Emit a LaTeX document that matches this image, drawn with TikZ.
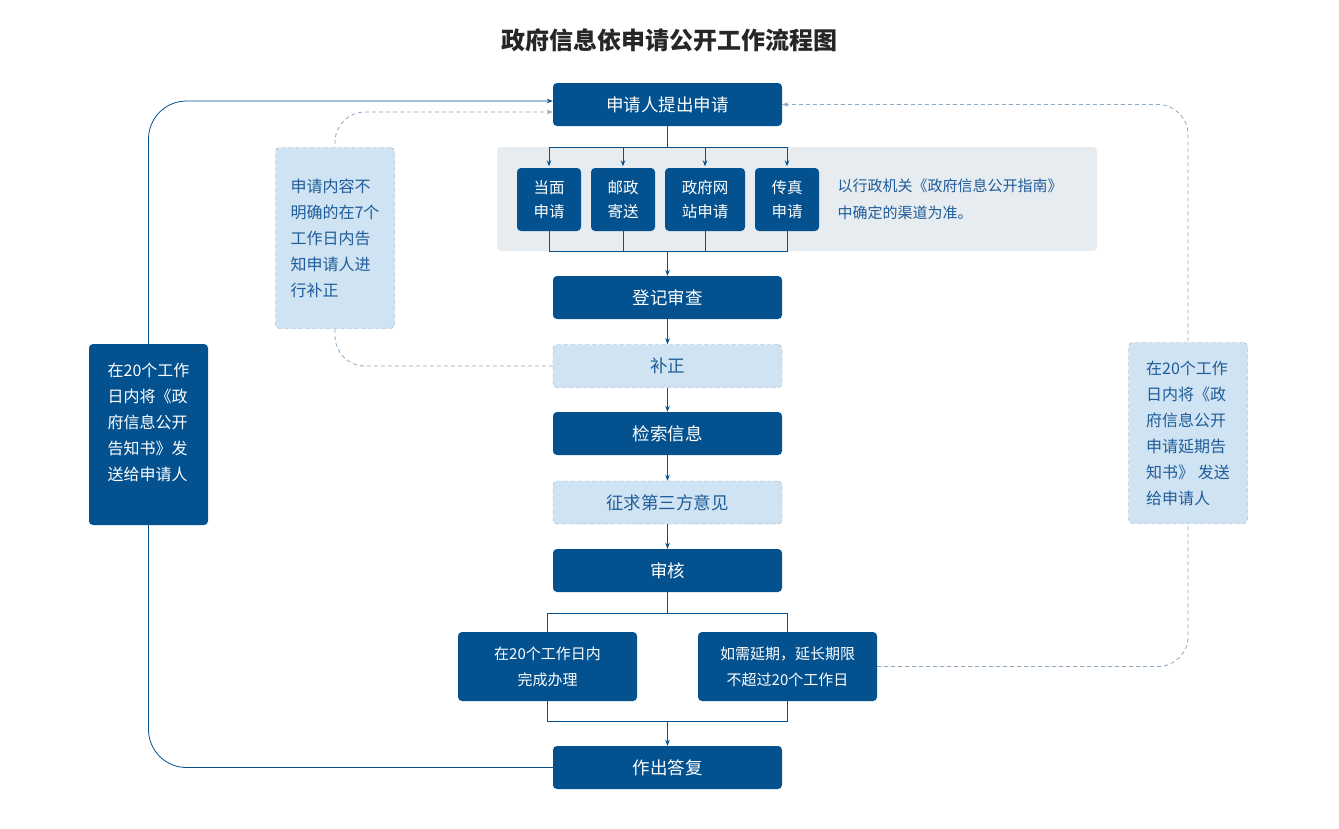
\documentclass[tikz,border=0pt]{standalone}
\usepackage{fontspec}
\setmainfont{Noto Sans CJK SC}
\usetikzlibrary{arrows.meta,backgrounds}
\definecolor{deepblue}{HTML}{03518F}
\definecolor{paleblue}{HTML}{CFE3F3}
\definecolor{dashgrey}{HTML}{8FA9C1}
\definecolor{panelgrey}{HTML}{E7ECF1}
\definecolor{notetext}{HTML}{1F5C99}
\tikzset{
  stepbox/.style={fill=deepblue, rounded corners=4pt, text=white, minimum width=229pt,
    minimum height=43pt, inner sep=0pt, font=\fontsize{17.5}{20}\selectfont},
  checkbox/.style={stepbox, fill=paleblue, draw=dashgrey, dash pattern=on 4pt off 3pt, text=notetext},
  waybox/.style={fill=deepblue, rounded corners=4pt, text=white, minimum height=63pt,
    inner sep=0pt, align=center, font=\fontsize{15.5}{24}\selectfont},
  limitbox/.style={fill=deepblue, rounded corners=4pt, text=white, minimum width=179pt,
    minimum height=69pt, inner sep=0pt, align=center, font=\fontsize{15}{26}\selectfont},
  sidebox/.style={rounded corners=4pt, minimum width=119pt, minimum height=181pt,
    inner sep=0pt, align=left, font=\fontsize{16}{26}\selectfont},
  flow/.style={deepblue, line width=0.8pt, -{Stealth[length=6pt,width=4.5pt]}},
  link/.style={deepblue, line width=0.8pt},
  back/.style={dashgrey, line width=0.8pt, dash pattern=on 4pt off 3pt,
    -{Stealth[length=6pt,width=4.5pt]}}
}
\begin{document}
\begin{tikzpicture}[x=1pt,y=-1pt]
\useasboundingbox (0,0) rectangle (1339,828);

\node[font=\fontsize{24}{27}\selectfont\bfseries, text=black!85] (title) at (669,40) {政府信息依申请公开工作流程图};

% main column
\node[stepbox] (apply) at (667.5,104.5) {申请人提出申请};
\node[fill=panelgrey, rounded corners=4pt, minimum width=600pt, minimum height=104pt] (panel) at (797,199) {};
\node[waybox, minimum width=64pt] (c1) at (549,199.5) {当面\\申请};
\node[waybox, minimum width=64pt] (c2) at (623,199.5) {邮政\\寄送};
\node[waybox, minimum width=80pt] (c3) at (705,199.5) {政府网\\站申请};
\node[waybox, minimum width=64pt] (c4) at (787,199.5) {传真\\申请};
\node[anchor=west, align=left, text=notetext, font=\fontsize{15}{27}\selectfont] (guide) at (834,199)
  {以行政机关《政府信息公开指南》\\中确定的渠道为准。};
\node[stepbox] (register) at (667.5,297.5) {登记审查};
\node[checkbox] (fix) at (667.5,366) {补正};
\node[stepbox] (search) at (667.5,433.5) {检索信息};
\node[checkbox] (third) at (667.5,502.5) {征求第三方意见};
\node[stepbox] (review) at (667.5,570.5) {审核};
\node[limitbox] (done) at (547.5,666.5) {在20个工作日内\\完成办理};
\node[limitbox] (extend) at (787.5,666.5) {如需延期，延长期限\\不超过20个工作日};
\node[stepbox] (reply) at (667.5,767.5) {作出答复};

% side notes
\node[sidebox, fill=paleblue, draw=dashgrey, dash pattern=on 4pt off 3pt, text=notetext] (noteL) at (335,238)
  {申请内容不\\明确的在7个\\工作日内告\\知申请人进\\行补正};
\node[sidebox, fill=deepblue, text=white] (noticeL) at (148.5,434.5)
  {在20个工作\\日内将《政\\府信息公开\\告知书》发\\送给申请人\\ \mbox{}};
\node[sidebox, fill=paleblue, draw=dashgrey, dash pattern=on 4pt off 3pt, text=notetext] (noteR) at (1188,433)
  {在20个工作\\日内将《政\\府信息公开\\申请延期告\\知书》 发送\\给申请人};

% connectors
\coordinate (split) at (667.5,147);
\coordinate (join) at (667.5,251);
\draw[link] (apply.south) -- (split);
\foreach \n in {c1,c2,c3,c4}{
  \draw[flow] (split) -| ([yshift=1.5pt]\n.north);
  \draw[link] (\n.south) |- (join);
}
\draw[flow] (join) -- (register.north);
\draw[flow] (register) -- (fix);
\draw[flow] (fix) -- (search);
\draw[flow] (search) -- (third);
\draw[flow] (third) -- (review);
\coordinate (fork) at (667.5,613);
\coordinate (meet) at (667.5,721);
\draw[link] (review.south) -- (fork);
\draw[link] (fork) -| (done.north);
\draw[link] (fork) -| (extend.north);
\draw[link] (done.south) |- (meet);
\draw[link] (extend.south) |- (meet);
\draw[flow] (meet) -- (reply.north);

\begin{pgfonlayer}{background}
\fill[white] (0,0) rectangle (1339,828);
\draw[flow, rounded corners=38pt] (reply.west) -| (noticeL.center) |- ([yshift=3.5pt]apply.west);
\draw[back, rounded corners=30pt] (fix.west) -| (noteL.center) |- ([yshift=-7.5pt]apply.west);
\draw[back, rounded corners=30pt] (extend.east) -| (noteR.center) |- (apply.east);
\end{pgfonlayer}
\end{tikzpicture}
\end{document}
